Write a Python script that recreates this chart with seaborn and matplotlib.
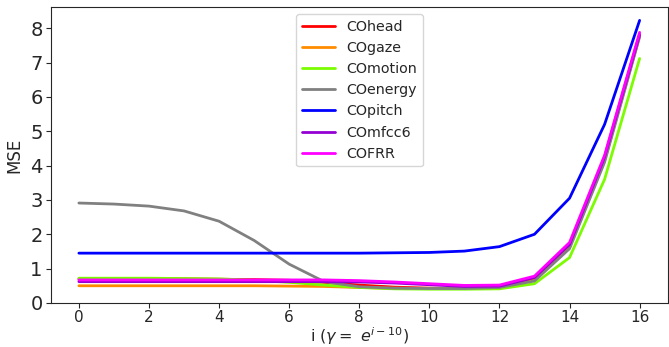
import matplotlib
matplotlib.use("Agg")
import matplotlib.pyplot as plt
import seaborn as sns
import pandas as pd

# x values: i, with gamma = e^(i-10)
steps = list(range(17))

co_head = [0.70, 0.70, 0.70, 0.70, 0.69, 0.68, 0.66, 0.60, 0.52, 0.46, 0.43, 0.42, 0.44, 0.68, 1.68, 4.20, 7.80]
co_gaze = [0.50, 0.50, 0.50, 0.50, 0.50, 0.50, 0.49, 0.48, 0.45, 0.43, 0.42, 0.42, 0.44, 0.66, 1.62, 4.15, 7.78]
co_motion = [0.72, 0.72, 0.72, 0.71, 0.70, 0.66, 0.60, 0.52, 0.45, 0.41, 0.40, 0.40, 0.41, 0.56, 1.32, 3.60, 7.12]
co_energy = [2.91, 2.88, 2.82, 2.68, 2.38, 1.82, 1.13, 0.62, 0.47, 0.43, 0.42, 0.42, 0.45, 0.64, 1.58, 4.10, 7.75]
co_pitch = [1.45, 1.45, 1.45, 1.45, 1.45, 1.45, 1.45, 1.45, 1.45, 1.46, 1.47, 1.51, 1.64, 2.00, 3.05, 5.20, 8.23]
co_mfcc6 = [0.62, 0.62, 0.62, 0.62, 0.62, 0.62, 0.62, 0.62, 0.61, 0.58, 0.53, 0.48, 0.49, 0.74, 1.70, 4.25, 7.82]
co_frr = [0.67, 0.67, 0.67, 0.67, 0.67, 0.67, 0.67, 0.67, 0.65, 0.61, 0.56, 0.51, 0.52, 0.78, 1.76, 4.30, 7.88]

names = ["COhead", "COgaze", "COmotion", "COenergy", "COpitch", "COmfcc6", "COFRR"]
series = [co_head, co_gaze, co_motion, co_energy, co_pitch, co_mfcc6, co_frr]
colors = ["red", "darkorange", "lawngreen", "gray", "blue", "darkviolet", "magenta"]

df = pd.concat(
    [pd.DataFrame({"i": steps, "mse": vals, "model": name}) for name, vals in zip(names, series)],
    ignore_index=True,
)

sns.set_style("ticks")
plt.rcParams["font.family"] = ["DejaVu Sans"]

fig = plt.figure(figsize=(6.69, 3.47), dpi=100)
ax = fig.add_axes([0.076, 0.127, 0.922, 0.853])

sns.lineplot(data=df, x="i", y="mse", hue="model", hue_order=names,
             palette=dict(zip(names, colors)), linewidth=2, ax=ax)

ax.set_ylim(bottom=0)
ax.set_xticks(range(0, 17, 2))
ax.set_yticks(range(0, 9))
ax.tick_params(axis="y", labelsize=14, pad=2.5)
ax.tick_params(axis="x", labelsize=11, pad=1.5)
ax.set_xlabel(r"i ($\gamma = \ e^{i-10}$)", fontsize=11.5, labelpad=0)
ax.set_ylabel("MSE", fontsize=12, labelpad=5)
for s in ax.spines.values():
    s.set_visible(True)

ax.legend(loc="upper center", fontsize=10.3, handlelength=2.3, borderaxespad=0.5)

fig.savefig("out.png", dpi=100)
